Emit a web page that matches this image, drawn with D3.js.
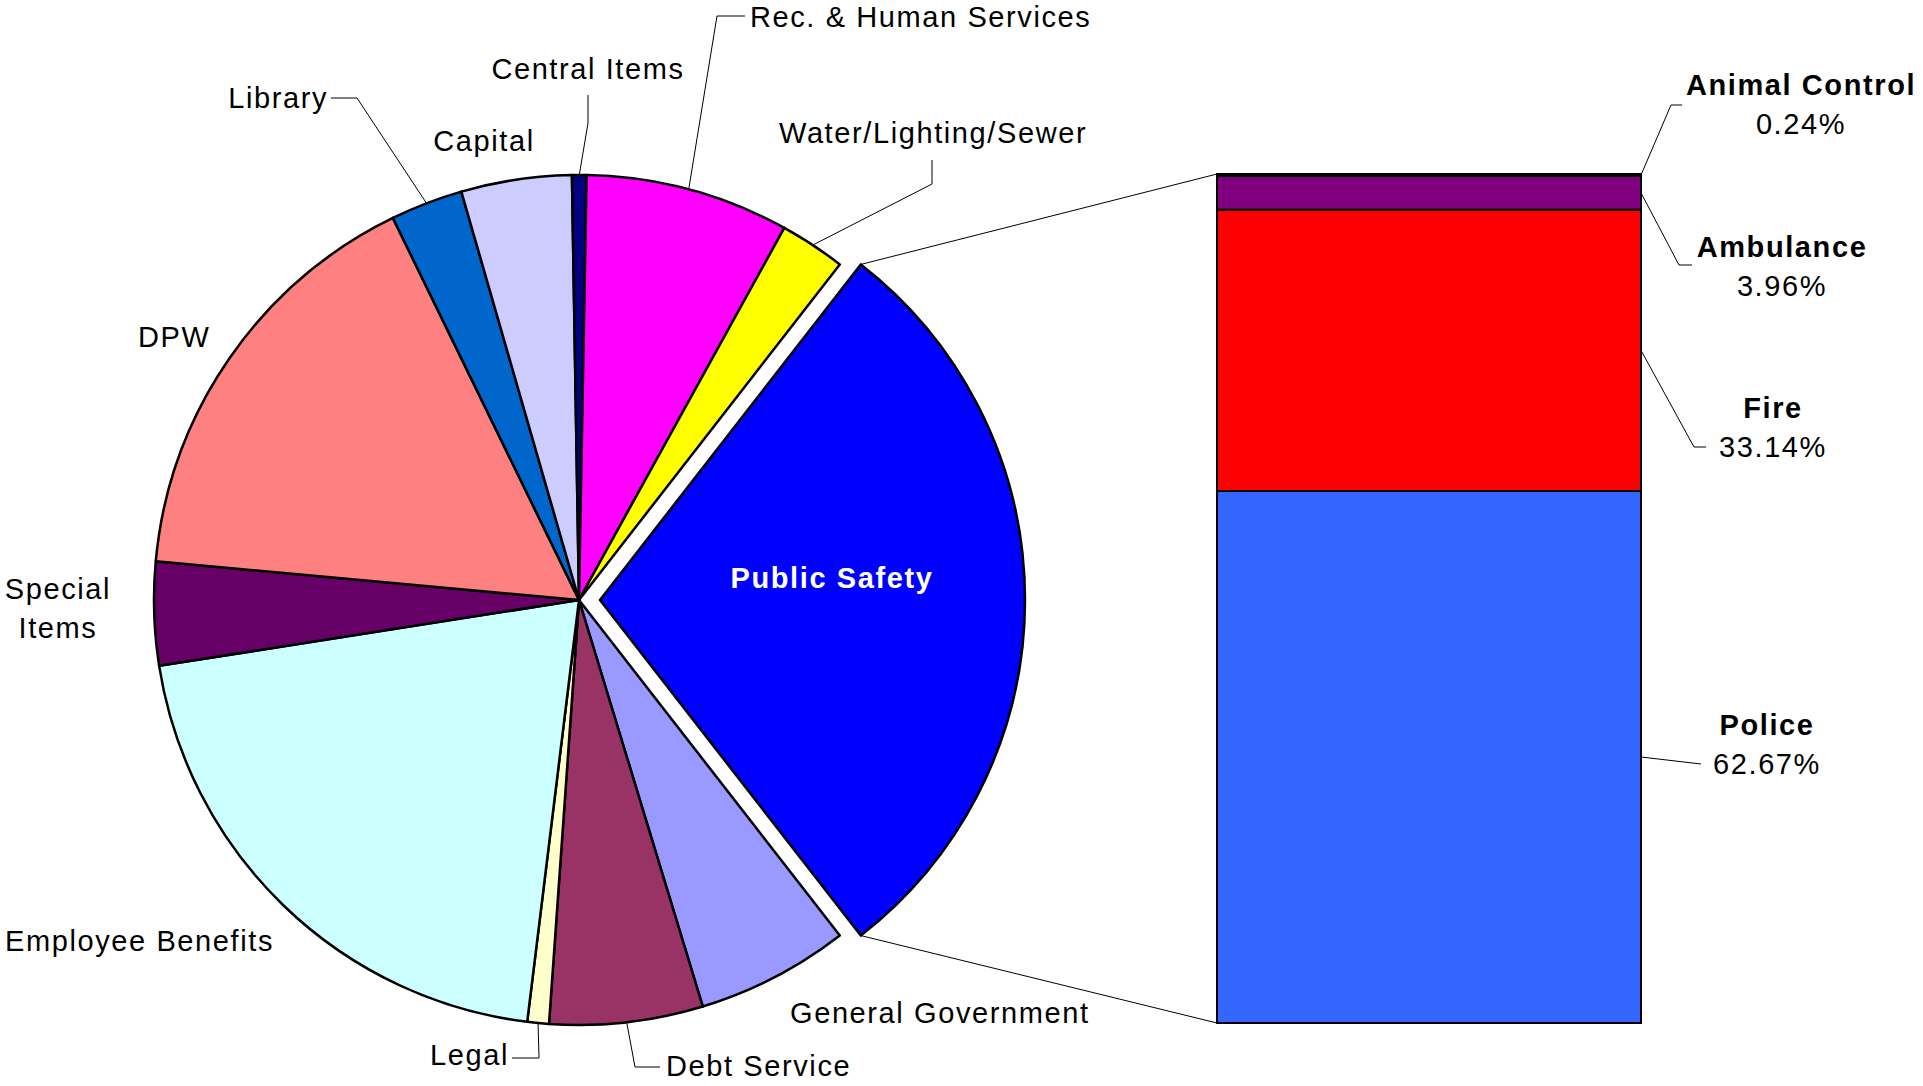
<!DOCTYPE html>
<html>
<head>
<meta charset="utf-8">
<script src="https://cdn.jsdelivr.net/npm/d3@7"></script>
<style>
  html, body { margin: 0; padding: 0; background: #ffffff; }
  svg { display: block; }
  text { font-family: "Liberation Sans", Arial, Helvetica, sans-serif; font-size: 29px; letter-spacing: 1.6px; fill: #000; }
</style>
</head>
<body>
<svg id="chart" width="1923" height="1086"></svg>
<script>
// Budget shares (%) by department, clockwise from the slice after Public Safety
const categories = [
  "General Government", "Debt Service", "Legal", "Employee Benefits",
  "Special Items", "DPW", "Library", "Capital", "Central Items",
  "Rec. & Human Services", "Water/Lighting/Sewer", "Public Safety"
];
const shares = [5.81, 5.83, 0.82, 20.58, 3.93, 16.33, 2.75, 4.20, 0.55, 7.74, 2.49, 28.97];
const sliceColors = [
  "#9999FF", "#993366", "#FFFFCC", "#CCFFFF", "#660066", "#FF8080",
  "#0066CC", "#CCCCFF", "#000080", "#FF00FF", "#FFFF00", "#0000FF"
];

// Breakdown of Public Safety (%), stacked bottom to top
const subCategories = ["Police", "Fire", "Ambulance", "Animal Control"];
const subShares = [62.67, 33.14, 3.96, 0.24];
const subColors = ["#3366FF", "#FF0000", "#800080", "#000080"];

const svg = d3.select("#chart");

// ---- pie geometry ----
const cx = 579, cy = 600, radius = 425, explode = 21;
const splitName = "Public Safety";
const splitIndex = categories.indexOf(splitName);
const total = d3.sum(shares);
const splitAngle = shares[splitIndex] / total * 2 * Math.PI;
// the split-off slice is centred on 3 o'clock; the rest follow clockwise after it
const start = Math.PI / 2 + splitAngle / 2;

const pie = d3.pie().sort(null).value(d => d).startAngle(start).endAngle(start + 2 * Math.PI);
const arcs = pie(shares).map((a, i) => Object.assign(a, { name: categories[i], color: sliceColors[i] }));
const arc = d3.arc().innerRadius(0).outerRadius(radius);

function offsetOf(a) {
  if (a.name !== splitName) return [0, 0];
  const mid = (a.startAngle + a.endAngle) / 2;
  return [explode * Math.sin(mid), -explode * Math.cos(mid)];
}
function polar(angle, r) { return [r * Math.sin(angle), -r * Math.cos(angle)]; }

const pieG = svg.append("g").attr("transform", `translate(${cx},${cy})`);
pieG.selectAll("path.slice")
  .data(arcs)
  .join("path")
  .attr("class", "slice")
  .attr("transform", d => `translate(${offsetOf(d)[0]},${offsetOf(d)[1]})`)
  .attr("d", arc)
  .attr("fill", d => d.color)
  .attr("stroke", "#000")
  .attr("stroke-width", 2.5)
  .attr("stroke-linejoin", "round");

// ---- stacked bar for the split slice ----
const barTop = 174, barBottom = 1023;
const y = d3.scaleLinear().domain([0, d3.sum(subShares)]).range([barBottom, barTop]);
const x = d3.scaleBand().domain([splitName]).range([1217, 1641]).padding(0);
const cum = d3.cumsum(subShares);
const segs = subShares.map((v, i) => ({
  name: subCategories[i], value: v, color: subColors[i],
  y0: cum[i] - v, y1: cum[i]
}));

// connectors from the split slice to the bar
const split = arcs[splitIndex];
const so = offsetOf(split);
const pTop = polar(split.startAngle, radius);
const pBot = polar(split.endAngle, radius);
const connectors = [
  [[cx + so[0] + pTop[0], cy + so[1] + pTop[1]], [x(splitName), y(d3.sum(subShares))]],
  [[cx + so[0] + pBot[0], cy + so[1] + pBot[1]], [x(splitName), y(0)]]
];
svg.selectAll("line.connector")
  .data(connectors)
  .join("line")
  .attr("class", "connector")
  .attr("x1", d => d[0][0]).attr("y1", d => d[0][1])
  .attr("x2", d => d[1][0]).attr("y2", d => d[1][1])
  .attr("stroke", "#000").attr("stroke-width", 1);

svg.selectAll("rect.seg")
  .data(segs)
  .join("rect")
  .attr("class", "seg")
  .attr("x", x(splitName))
  .attr("width", x.bandwidth())
  .attr("y", d => y(d.y1))
  .attr("height", d => y(d.y0) - y(d.y1))
  .attr("fill", d => d.color)
  .attr("stroke", "#000")
  .attr("stroke-width", 2);

// ---- pie labels ----
const pieLabels = {
  "General Government":   { x: 790, y: 1023, anchor: "start" },
  "Debt Service":         { x: 666, y: 1076, anchor: "start", elbow: [[660, 1067], [635, 1067]] },
  "Legal":                { x: 509, y: 1065, anchor: "end",   elbow: [[512, 1058], [539, 1058]] },
  "Employee Benefits":    { x: 5,   y: 951,  anchor: "start" },
  "Special Items":        { x: 58,  y: 599,  anchor: "middle", lines: ["Special", "Items"] },
  "DPW":                  { x: 138, y: 347,  anchor: "start" },
  "Library":              { x: 328, y: 108,  anchor: "end",   elbow: [[331, 98], [357, 98]] },
  "Capital":              { x: 484, y: 151,  anchor: "middle" },
  "Central Items":        { x: 588, y: 79,   anchor: "middle", elbow: [[588, 95], [588, 123]] },
  "Rec. & Human Services":{ x: 750, y: 27,   anchor: "start", elbow: [[745, 16], [717, 16]] },
  "Water/Lighting/Sewer": { x: 779, y: 143,  anchor: "start", elbow: [[932, 160], [932, 184]] },
  "Public Safety":        { x: 832, y: 588,  anchor: "middle", bold: true, color: "#ffffff" }
};

const leader = d3.line();
arcs.forEach(a => {
  const L = pieLabels[a.name];
  if (L.elbow) {
    const mid = (a.startAngle + a.endAngle) / 2;
    const p = polar(mid, radius);
    const o = offsetOf(a);
    const pts = L.elbow.concat([[cx + o[0] + p[0], cy + o[1] + p[1]]]);
    svg.append("path").attr("d", leader(pts)).attr("fill", "none")
      .attr("stroke", "#000").attr("stroke-width", 1);
  }
  const t = svg.append("text")
    .attr("x", L.x).attr("y", L.y)
    .attr("text-anchor", L.anchor)
    .style("font-weight", L.bold ? "bold" : null)
    .style("fill", L.color || "#000");
  const lines = L.lines || [a.name];
  lines.forEach((s, k) => {
    t.append("tspan").attr("x", L.x).attr("dy", k === 0 ? 0 : 39).text(s);
  });
});

// ---- bar labels ----
const barLabels = {
  "Police":         { x: 1767, y: 735, elbow: [[1701, 764]] },
  "Fire":           { x: 1773, y: 418, elbow: [[1706, 447], [1694, 447]] },
  "Ambulance":      { x: 1782, y: 257, elbow: [[1692, 265], [1679, 265]] },
  "Animal Control": { x: 1801, y: 95,  elbow: [[1682, 105], [1671, 105]] }
};
segs.forEach(s => {
  const L = barLabels[s.name];
  const edge = [x(splitName) + x.bandwidth(), y((s.y0 + s.y1) / 2)];
  svg.append("path").attr("d", leader(L.elbow.concat([edge]))).attr("fill", "none")
    .attr("stroke", "#000").attr("stroke-width", 1);
  const t = svg.append("text").attr("x", L.x).attr("y", L.y).attr("text-anchor", "middle");
  t.append("tspan").attr("x", L.x).style("font-weight", "bold").text(s.name);
  t.append("tspan").attr("x", L.x).attr("dy", 39).text(s.value.toFixed(2) + "%");
});
</script>
</body>
</html>
